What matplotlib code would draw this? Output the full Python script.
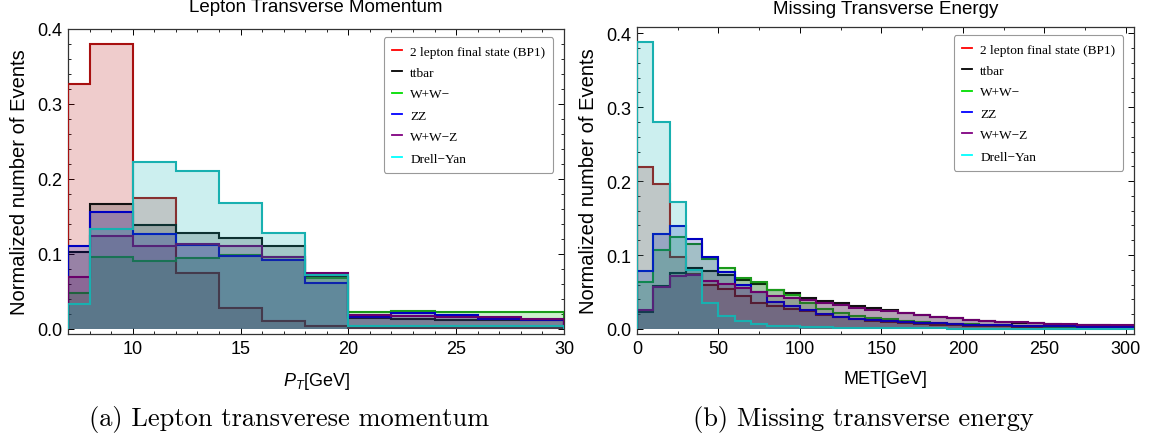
import matplotlib
matplotlib.use("Agg")
import matplotlib.pyplot as plt
from matplotlib.lines import Line2D
from matplotlib.ticker import MultipleLocator, FormatStrFormatter

plt.rcParams['font.family'] = ['Liberation Sans', 'DejaVu Sans']
plt.rcParams['mathtext.fontset'] = 'custom'
plt.rcParams['mathtext.rm'] = 'Liberation Sans'
plt.rcParams['mathtext.it'] = 'Liberation Sans:italic'

labels = ["2 lepton final state (BP1)", "ttbar", "W+W\u2212", "ZZ", "W+W\u2212Z", "Drell\u2212Yan"]

# lepton pT histogram (bin edges in GeV)
pt_edges = [7, 8, 10, 12, 14, 16, 18, 20, 22, 24, 26, 28, 30]
pt_signal = [0.327, 0.380, 0.175, 0.075, 0.028, 0.010, 0.004, 0.001, 0.001, 0.001, 0.001, 0.001]
pt_ttbar = [0.103, 0.167, 0.138, 0.128, 0.121, 0.111, 0.069, 0.014, 0.013, 0.0125, 0.0125, 0.012]
pt_ww = [0.048, 0.096, 0.091, 0.094, 0.099, 0.096, 0.068, 0.023, 0.0235, 0.023, 0.023, 0.023]
pt_zz = [0.110, 0.156, 0.126, 0.112, 0.097, 0.092, 0.061, 0.016, 0.021, 0.018, 0.013, 0.012]
pt_wwz = [0.069, 0.124, 0.110, 0.113, 0.110, 0.096, 0.074, 0.018, 0.0175, 0.016, 0.016, 0.013]
pt_dy = [0.033, 0.133, 0.223, 0.211, 0.168, 0.128, 0.072, 0.004, 0.004, 0.0035, 0.0035, 0.0035]

# MET histogram, 10 GeV bins from 0 to 310
met_edges = list(range(0, 311, 10))
met_signal = [0.219, 0.196, 0.097, 0.075, 0.060, 0.054, 0.044, 0.035, 0.031, 0.027, 0.024, 0.019, 0.016, 0.013, 0.011,
              0.0095, 0.0082, 0.0070, 0.0060, 0.0052, 0.0045, 0.0040, 0.0035, 0.0030, 0.0027, 0.0024, 0.0021, 0.0019,
              0.0017, 0.0015, 0.0014]
met_ttbar = [0.023, 0.058, 0.076, 0.083, 0.079, 0.0735, 0.066, 0.061, 0.053, 0.048, 0.042, 0.038, 0.035, 0.031, 0.028,
             0.025, 0.0215, 0.019, 0.0167, 0.0142, 0.0122, 0.0108, 0.0095, 0.0085, 0.0076, 0.0067, 0.0058, 0.0052,
             0.0048, 0.0046, 0.0044]
met_ww = [0.064, 0.107, 0.125, 0.115, 0.095, 0.083, 0.069, 0.063, 0.053, 0.046, 0.035, 0.027, 0.021, 0.017, 0.015,
          0.013, 0.011, 0.0095, 0.0082, 0.0072, 0.0063, 0.0055, 0.0048, 0.0042, 0.0037, 0.0033, 0.0030, 0.0027,
          0.0024, 0.0022, 0.0020]
met_zz = [0.078, 0.129, 0.139, 0.122, 0.098, 0.077, 0.060, 0.050, 0.037, 0.031, 0.026, 0.020, 0.016, 0.0135, 0.012,
          0.0104, 0.0095, 0.0085, 0.0075, 0.0068, 0.0060, 0.0055, 0.0050, 0.0045, 0.0040, 0.0037, 0.0034, 0.0030,
          0.0028, 0.0026, 0.0025]
met_wwz = [0.025, 0.057, 0.072, 0.073, 0.065, 0.061, 0.055, 0.050, 0.045, 0.042, 0.039, 0.035, 0.032, 0.029, 0.026,
           0.0248, 0.0216, 0.0190, 0.0167, 0.0144, 0.0126, 0.0113, 0.0099, 0.0090, 0.0081, 0.0072, 0.0063, 0.0059,
           0.0054, 0.0054, 0.0050]
met_dy = [0.388, 0.280, 0.172, 0.080, 0.035, 0.018, 0.011, 0.007, 0.0045, 0.0035, 0.0025, 0.002, 0.0016, 0.0013, 0.0011,
          0.0010, 0.0009, 0.0008, 0.0007, 0.0006, 0.0006, 0.0005, 0.0005, 0.0004, 0.0004, 0.0004, 0.0003, 0.0003,
          0.0003, 0.0003, 0.0003]

fill_colors = ['#b30000', '#000000', '#00b300', '#0000b3', '#5a005a', '#00b3b3']
edge_colors = ['#a81010', '#111111', '#1a9a1a', '#0000c0', '#6a006a', '#18b0b0']
legend_colors = ['#ff0000', '#000000', '#00dd00', '#0000ff', '#800080', '#00ffff']

W, H = 1149, 439
fig = plt.figure(figsize=(W / 100, H / 100), dpi=100)


def px_axes(l, t, r, b):
    return fig.add_axes([l / W, 1 - b / H, (r - l) / W, (b - t) / H])


def draw_hists(ax, edges, series):
    for i, vals in enumerate(series):
        ax.stairs(vals, edges, fill=True, color=fill_colors[i], alpha=0.2, lw=0, zorder=2 + 2 * i)
        ax.stairs(vals, edges, color=edge_colors[i], lw=1.5, zorder=3 + 2 * i)


def style(ax):
    ax.tick_params(which='both', direction='in', top=True, right=True, labelsize=13, pad=4)
    ax.tick_params(which='major', length=4, width=0.7)
    ax.tick_params(which='minor', length=2.5, width=0.6)
    for s in ax.spines.values():
        s.set_color('#333333')
        s.set_linewidth(0.9)
    ax.yaxis.set_major_locator(MultipleLocator(0.1))
    ax.yaxis.set_minor_locator(MultipleLocator(0.02))
    ax.yaxis.set_major_formatter(FormatStrFormatter('%.1f'))
    handles = [Line2D([], [], color=c, lw=1.3) for c in legend_colors]
    leg = ax.legend(handles, labels, loc='upper right', bbox_to_anchor=(0.992, 0.995),
                    prop={'family': 'Liberation Serif', 'size': 9.6}, handlelength=0.8,
                    handletextpad=0.6, labelspacing=0.68, borderpad=0.6, fancybox=True,
                    framealpha=1, edgecolor='#999999')
    leg.get_frame().set_linewidth(0.8)
    leg.set_zorder(20)


ax1 = px_axes(68, 30, 564, 335)
draw_hists(ax1, pt_edges, [pt_signal, pt_ttbar, pt_ww, pt_zz, pt_wwz, pt_dy])
ax1.set_xlim(7, 30)
ax1.set_ylim(-0.0067, 0.4)
ax1.xaxis.set_major_locator(MultipleLocator(5))
ax1.xaxis.set_minor_locator(MultipleLocator(1))
style(ax1)
ax1.set_title("Lepton Transverse Momentum", fontsize=13.5, pad=13)
ax1.set_xlabel(r"$P_T$[GeV]", fontsize=13, labelpad=10)
ax1.set_ylabel("Normalized number of Events", fontsize=14.5, labelpad=6)

ax2 = px_axes(637, 28, 1134, 335)
draw_hists(ax2, met_edges, [met_signal, met_ttbar, met_ww, met_zz, met_wwz, met_dy])
ax2.set_xlim(0, 305)
ax2.set_ylim(-0.0068, 0.4085)
ax2.xaxis.set_major_locator(MultipleLocator(50))
ax2.xaxis.set_minor_locator(MultipleLocator(25))
style(ax2)
ax2.set_title("Missing Transverse Energy", fontsize=13.5, pad=10)
ax2.set_xlabel("MET[GeV]", fontsize=13, labelpad=10)
ax2.set_ylabel("Normalized number of Events", fontsize=14.5, labelpad=6)

fig.text(289 / W, 1 - 420 / H, "(a) Lepton transverese momentum", family='cmr10', fontsize=19,
         ha='center', va='center')
fig.text(863 / W, 1 - 420 / H, "(b) Missing transverse energy", family='cmr10', fontsize=19,
         ha='center', va='center')

fig.savefig("out.png", dpi=100)
